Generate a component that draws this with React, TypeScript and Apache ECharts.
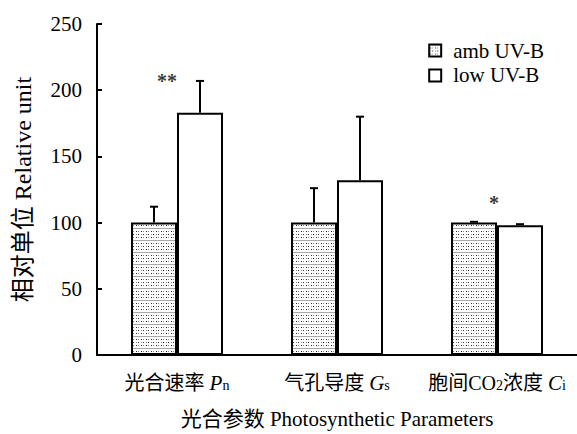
import React, { useEffect, useRef } from "react";
import * as echarts from "echarts";

const categories = ["Pn", "Gs", "Ci"];
const ambValues = [100, 100, 100];
const lowValues = [183, 132, 98];
const ambErrors = [12, 26, 0.6];
const lowErrors = [24, 48, 0.8];
const yTicks = { min: 0, max: 250, interval: 50 };
const sigMarks = [
  { cat: 0, value: 207, text: "**", dx: -10 },
  { cat: 2, value: 115, text: "*", dx: -3 },
];

const FONT = "'Liberation Serif', 'Times New Roman', 'Noto Sans CJK SC', serif";

function makePattern() {
  const c = document.createElement("canvas");
  c.width = 5;
  c.height = 12;
  const ctx = c.getContext("2d")!;
  ctx.fillStyle = "#ffffff";
  ctx.fillRect(0, 0, 5, 12);
  ctx.fillStyle = "#a8a8a8";
  ctx.fillRect(0, 0, 5, 1);
  ctx.fillStyle = "#2a2a2a";
  ctx.fillRect(1, 3, 1, 1);
  ctx.fillRect(3, 6, 1, 1);
  ctx.fillRect(1, 9, 1, 1);
  ctx.fillStyle = "#8a8a8a";
  ctx.fillRect(3, 3, 1, 1);
  ctx.fillRect(1, 6, 1, 1);
  ctx.fillRect(3, 9, 1, 1);
  return c;
}

export default function App() {
  const ref = useRef<HTMLDivElement>(null);
  useEffect(() => {
    document.body.style.margin = "0";
    if (!ref.current) return;
    const chart = echarts.init(ref.current, null, { renderer: "svg" });
    const pattern = makePattern();
    const barW = 46;
    const errSeries = (vals: number[], errs: number[], dir: number, name: string) => ({
      type: "custom",
      name,
      z: 5,
      silent: true,
      data: vals.map((v, i) => [i, v, v + errs[i]]),
      renderItem: (params: any, api: any) => {
        const base = api.coord([api.value(0), api.value(1)]);
        const top = api.coord([api.value(0), api.value(2)]);
        const x = base[0] + (dir * barW) / 2;
        const st = { stroke: "#000", lineWidth: 2 };
        return {
          type: "group",
          children: [
            { type: "line", shape: { x1: x, y1: base[1], x2: x, y2: top[1] }, style: st },
            { type: "line", shape: { x1: x - 4, y1: top[1], x2: x + 4, y2: top[1] }, style: st },
          ],
        };
      },
    });
    const labelFormatter = (v: string) => {
      if (v === "Pn") return "{a|光合速率 }{i|P}{s|n}";
      if (v === "Gs") return "{a|气孔导度 }{i|G}{s|s}";
      return "{a|胞间CO}{s|2}{a|浓度 }{i|C}{s|i}";
    };
    chart.setOption({
      animation: false,
      backgroundColor: "#ffffff",
      textStyle: { fontFamily: FONT },
      grid: { left: 97, right: -4, top: 24, bottom: 78 },
      legend: {
        orient: "vertical",
        right: 28,
        top: 35,
        icon: "rect",
        itemWidth: 12,
        itemHeight: 12,
        itemGap: 4,
        data: ["amb UV-B", "low UV-B"],
        textStyle: { fontFamily: FONT, fontSize: 21, color: "#000", padding: [0, 0, 0, 7] },
      },
      xAxis: {
        type: "category",
        data: categories,
        axisLine: { lineStyle: { color: "#000", width: 2 } },
        axisTick: { inside: true, length: 5, lineStyle: { color: "#000", width: 2 } },
        axisLabel: {
          interval: 0,
          margin: 17,
          color: "#000",
          formatter: labelFormatter,
          rich: {
            a: { fontFamily: FONT, fontSize: 20, color: "#000" },
            i: { fontFamily: FONT, fontSize: 21, fontStyle: "italic", color: "#000" },
            s: { fontFamily: FONT, fontSize: 14, color: "#000", verticalAlign: "bottom", padding: [6, 0, 0, 0] },
          },
        },
        name: "光合参数 Photosynthetic Parameters",
        nameLocation: "middle",
        nameGap: 53,
        nameTextStyle: { fontFamily: FONT, fontSize: 21, color: "#000" },
      },
      yAxis: {
        type: "value",
        min: yTicks.min,
        max: yTicks.max,
        interval: yTicks.interval,
        splitLine: { show: false },
        axisLine: { show: true, lineStyle: { color: "#000", width: 2 } },
        axisTick: { show: true, inside: true, length: 5, lineStyle: { color: "#000", width: 2 } },
        axisLabel: { color: "#000", fontFamily: FONT, fontSize: 21, margin: 15 },
        name: "相对单位 Relative unit",
        nameLocation: "middle",
        nameGap: 62,
        nameTextStyle: { fontFamily: FONT, fontSize: 24, color: "#000" },
      },
      series: [
        {
          type: "bar",
          name: "amb UV-B",
          data: ambValues,
          barWidth: barW,
          barGap: "0%",
          itemStyle: { color: { image: pattern, repeat: "repeat" }, borderColor: "#000", borderWidth: 2 },
        },
        {
          type: "bar",
          name: "low UV-B",
          data: lowValues,
          barWidth: barW,
          barGap: "0%",
          itemStyle: { color: "#ffffff", borderColor: "#000", borderWidth: 2 },
        },
        errSeries(ambValues, ambErrors, -1, "errAmb"),
        errSeries(lowValues, lowErrors, 1, "errLow"),
        {
          type: "scatter",
          name: "sig",
          symbolSize: 0,
          silent: true,
          data: sigMarks.map((m) => ({
            value: [m.cat, m.value],
            label: {
              show: true,
              position: "inside",
              formatter: m.text,
              offset: [m.dx, 0],
              fontFamily: FONT,
              fontSize: 20,
              fontWeight: "bold",
              color: "#000",
            },
          })),
        },
      ],
    });
    return () => chart.dispose();
  }, []);
  return <div ref={ref} style={{ width: 577, height: 434 }} />;
}
